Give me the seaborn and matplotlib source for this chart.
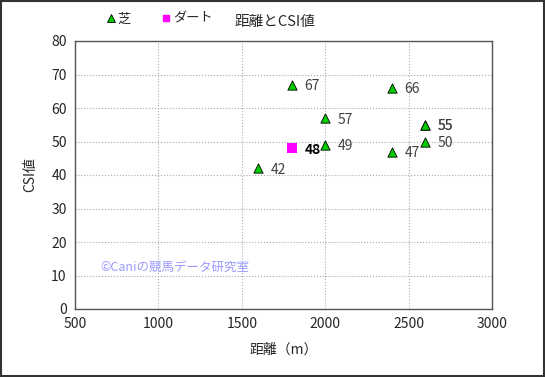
import matplotlib
matplotlib.use('Agg')
import matplotlib.pyplot as plt
import seaborn as sns
import pandas as pd
from matplotlib.lines import Line2D

# データ
turf_dist = [1600, 1800, 2000, 2000, 2400, 2400, 2600, 2600, 2600]
turf_csi = [42, 67, 57, 49, 66, 47, 55, 55, 50]
dirt_dist = [1800]
dirt_csi = [48]

x_ticks = [500, 1000, 1500, 2000, 2500, 3000]
y_ticks = [0, 10, 20, 30, 40, 50, 60, 70, 80]

turf = pd.DataFrame({'距離': turf_dist, 'CSI': turf_csi})
dirt = pd.DataFrame({'距離': dirt_dist, 'CSI': dirt_csi})

sns.set_style('white')
plt.rcParams['font.family'] = ['Noto Sans CJK JP', 'DejaVu Sans']

fig = plt.figure(figsize=(5.45, 3.77), dpi=100)
ax = fig.add_axes([75 / 545, 1 - 309 / 377, 417 / 545, 268 / 377])

sns.scatterplot(data=turf, x='距離', y='CSI', marker='^', color='#00cc00',
                edgecolor='black', linewidth=0.6, s=45, ax=ax, zorder=3)
sns.scatterplot(data=dirt, x='距離', y='CSI', marker='s', color='#ff00ff',
                edgecolor='#ff00ff', linewidth=0, s=50, ax=ax, zorder=3)

for x, y in zip(turf_dist, turf_csi):
    ax.annotate(str(y), (x, y), xytext=(9, -4), textcoords='offset points',
                fontsize=10, color='#404040')
for x, y in zip(dirt_dist, dirt_csi):
    ax.annotate(str(y), (x, y), xytext=(9, -4), textcoords='offset points',
                fontsize=10, color='black', fontweight='bold')

ax.set_xlim(500, 3000)
ax.set_ylim(0, 80)
ax.set_xticks(x_ticks)
ax.set_yticks(y_ticks)
ax.tick_params(labelsize=10, length=0, pad=6)
ax.grid(True, color='#aaaaaa', linestyle=':', linewidth=0.8)
for sp in ax.spines.values():
    sp.set_color('#555555')
    sp.set_linewidth(1)

ax.set_xlabel('距離（m）', fontsize=10, labelpad=8)
ax.set_ylabel('CSI値', fontsize=10, labelpad=10)

ax.text(650, 11.5, '©Caniの競馬データ研究室', fontsize=9, color='#9999ff', zorder=4)

# 凡例とタイトル
handles = [Line2D([], [], marker='^', color='none', markerfacecolor='#00cc00',
                  markeredgecolor='black', markeredgewidth=0.6, markersize=6),
           Line2D([], [], marker='s', color='none', markerfacecolor='#ff00ff',
                  markeredgecolor='#ff00ff', markersize=5)]
fig.legend(handles, ['芝', 'ダート'], loc='center left', bbox_to_anchor=(95 / 545, 1 - 19 / 377),
           ncol=2, frameon=False, fontsize=9.5, handlelength=0.6, handletextpad=0.2,
           columnspacing=2.4)
fig.text(275 / 545, 1 - 22 / 377, '距離とCSI値', fontsize=10.5, ha='center', va='center')

fig.patches.append(plt.Rectangle((0.002, 0.003), 0.996, 0.994, transform=fig.transFigure,
                                 fill=False, edgecolor='#333333', linewidth=1.5))

fig.savefig('out.png', dpi=100)
